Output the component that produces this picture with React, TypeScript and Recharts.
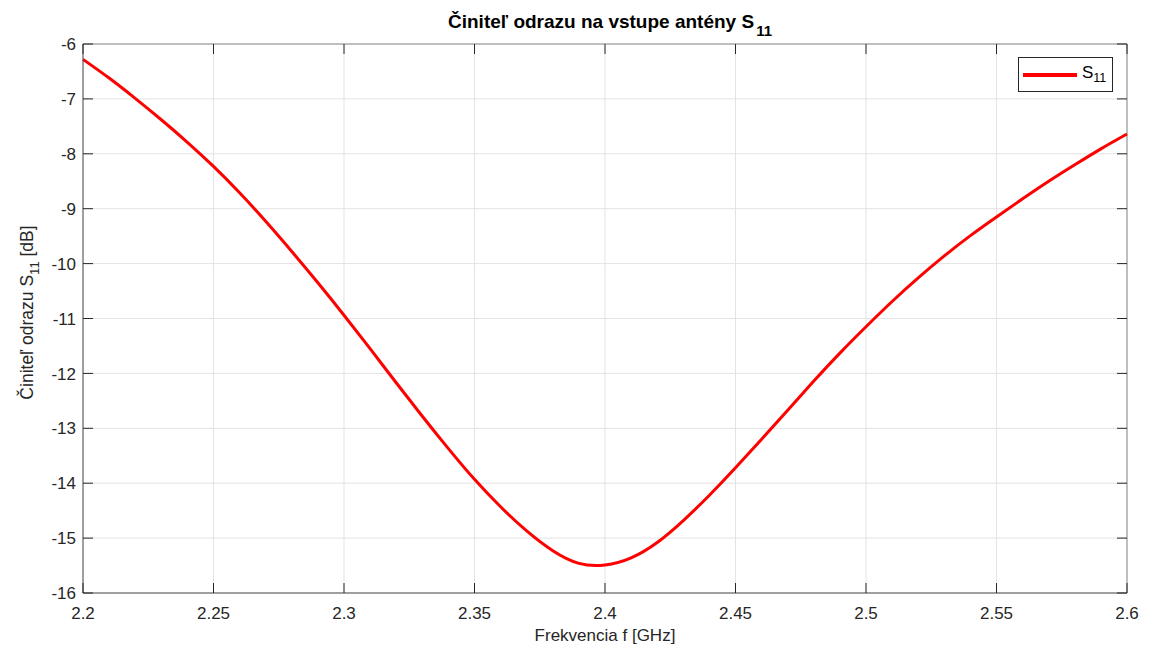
import { CartesianGrid, Legend, Line, LineChart, ReferenceLine, XAxis, YAxis } from 'recharts'

const freq = [
  2.2, 2.21, 2.22, 2.23, 2.24, 2.25, 2.26, 2.27, 2.28, 2.29, 2.3, 2.31, 2.32, 2.33, 2.34, 2.35, 2.36,
  2.37, 2.38, 2.39, 2.4, 2.41, 2.42, 2.43, 2.44, 2.45, 2.46, 2.47, 2.48, 2.49, 2.5, 2.51, 2.52, 2.53,
  2.54, 2.55, 2.56, 2.57, 2.58, 2.59, 2.6,
]
const s11 = [
  -6.28, -6.62, -6.99, -7.38, -7.79, -8.23, -8.71, -9.23, -9.78, -10.35, -10.94, -11.55, -12.17,
  -12.78, -13.37, -13.93, -14.43, -14.87, -15.23, -15.46, -15.49, -15.36, -15.08, -14.68, -14.22,
  -13.72, -13.2, -12.67, -12.14, -11.63, -11.15, -10.69, -10.26, -9.86, -9.49, -9.15, -8.82, -8.5,
  -8.2, -7.91, -7.64,
]
const xTicks = [2.2, 2.25, 2.3, 2.35, 2.4, 2.45, 2.5, 2.55, 2.6]
const yTicks = [-16, -15, -14, -13, -12, -11, -10, -9, -8, -7, -6]

const data = freq.map((f, i) => ({ f, s11: s11[i] }))

const TOP = 44
const BOTTOM = 593
const LEFT = 83
const RIGHT = 1127
const FONT = '"Liberation Sans", Arial, sans-serif'
const TEXT = '#262626'

function XTick({ x, y, payload }: any) {
  return (
    <g>
      <line x1={x} x2={x} y1={BOTTOM} y2={BOTTOM - 10} stroke={TEXT} />
      <line x1={x} x2={x} y1={TOP} y2={TOP + 10} stroke={TEXT} />
      <text x={x} y={y + 26} textAnchor="middle" fill={TEXT} fontSize={17} fontFamily={FONT}>
        {payload.value}
      </text>
    </g>
  )
}

function YTick({ x, y, payload }: any) {
  return (
    <g>
      <line x1={LEFT} x2={LEFT + 10} y1={y} y2={y} stroke={TEXT} />
      <line x1={RIGHT} x2={RIGHT - 10} y1={y} y2={y} stroke={TEXT} />
      <text x={x - 7} y={y} dy="0.36em" textAnchor="end" fill={TEXT} fontSize={17} fontFamily={FONT}>
        {payload.value}
      </text>
    </g>
  )
}

function XLabel({ viewBox }: any) {
  const cx = viewBox.x + viewBox.width / 2
  return (
    <text x={cx} y={BOTTOM + 48} textAnchor="middle" fill={TEXT} fontSize={17} fontFamily={FONT}>
      Frekvencia f [GHz]
    </text>
  )
}

function YLabel() {
  const cx = 27
  const cy = (TOP + BOTTOM) / 2 - 6
  return (
    <text
      x={cx}
      y={cy}
      transform={`rotate(-90, ${cx}, ${cy})`}
      textAnchor="middle"
      dy="0.36em"
      fill={TEXT}
      fontSize={17.5}
      fontFamily={FONT}
    >
      Činiteľ odrazu S<tspan dy={6} fontSize={13}>11</tspan>
      <tspan dy={-6}>{'  [dB]'}</tspan>
    </text>
  )
}

function LegendBox() {
  return (
    <div
      style={{
        width: 93,
        height: 33,
        border: '1px solid #262626',
        background: '#fff',
        display: 'flex',
        alignItems: 'center',
        fontFamily: FONT,
        fontSize: 17,
        color: '#000',
      }}
    >
      <div style={{ width: 54, height: 4, background: '#ff0000', marginLeft: 4, marginRight: 5 }} />
      <span>
        S<sub style={{ fontSize: 12.5 }}>11</sub>
      </span>
    </div>
  )
}

export default function App() {
  return (
    <div style={{ position: 'relative', width: 1151, height: 650, background: '#fff' }}>
      <style>{'body{margin:0}'}</style>
      <svg width={1151} height={42} style={{ position: 'absolute', left: 0, top: 0 }}>
        <text
          x={610}
          y={28}
          textAnchor="middle"
          fill="#000"
          fontSize={19}
          fontWeight="bold"
          fontFamily={FONT}
        >
          Činiteľ odrazu na vstupe antény S
          <tspan dx={2} dy={8} fontSize={15}>11</tspan>
        </text>
      </svg>
      <LineChart width={1151} height={650} data={data} margin={{ top: TOP, right: 1151 - RIGHT, bottom: 27, left: 0 }}>
        <CartesianGrid stroke="#e3e3e3" strokeWidth={1} horizontalValues={yTicks} verticalValues={xTicks} />
        <XAxis
          dataKey="f"
          type="number"
          domain={[2.2, 2.6]}
          ticks={xTicks}
          interval={0}
          height={30}
          tickLine={false}
          tickSize={0}
          tickMargin={0}
          tick={<XTick />}
          axisLine={{ stroke: '#4d4d4d' }}
          label={<XLabel />}
        />
        <YAxis
          type="number"
          domain={[-16, -6]}
          ticks={yTicks}
          interval={0}
          width={LEFT}
          tickLine={false}
          tickSize={0}
          tickMargin={0}
          tick={<YTick />}
          axisLine={{ stroke: '#4d4d4d' }}
          label={<YLabel />}
        />
        <ReferenceLine y={-6} stroke="#8c8c8c" />
        <ReferenceLine x={2.6} stroke="#8c8c8c" />
        <Legend
          layout="vertical"
          align="center"
          verticalAlign="middle"
          content={<LegendBox />}
          wrapperStyle={{ position: 'absolute', left: 1018, top: 57, width: 'auto' }}
        />
        <Line
          dataKey="s11"
          type="natural"
          stroke="#ff0000"
          strokeWidth={3}
          dot={false}
          isAnimationActive={false}
        />
      </LineChart>
    </div>
  )
}
